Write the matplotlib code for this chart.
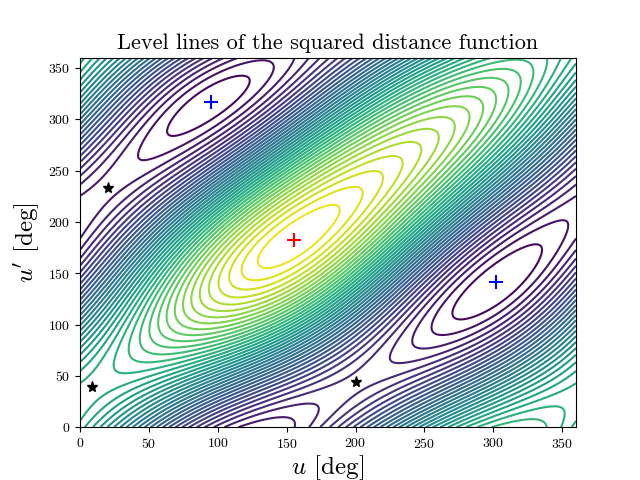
import numpy as np
import matplotlib
matplotlib.use("Agg")
import matplotlib.pyplot as plt

plt.rcParams["font.family"] = "cmr10"
plt.rcParams["mathtext.fontset"] = "cm"
plt.rcParams["axes.formatter.use_mathtext"] = True

# orbital elements: a, e, i [rad], Omega [rad], omega [rad]
orbit1 = [1.0, 0.2007, 0.0, 0.0, 5.6861]
orbit2 = [0.8770, 0.0149, 0.6068, 4.4910, 3.8453]

# critical points [deg]
max_pts_u = [155]
max_pts_v = [182]
min_pts_u = [95, 302]
min_pts_v = [317, 141]
saddle_u = [20, 9, 200]
saddle_v = [233, 39, 44]


def position(el, u):
    a, e, inc, Om, om = el
    x = a * (np.cos(u) - e)
    y = a * np.sqrt(1 - e**2) * np.sin(u)
    x1 = x * np.cos(om) - y * np.sin(om)
    y1 = x * np.sin(om) + y * np.cos(om)
    z1 = y1 * np.sin(inc)
    y1 = y1 * np.cos(inc)
    X = x1 * np.cos(Om) - y1 * np.sin(Om)
    Y = x1 * np.sin(Om) + y1 * np.cos(Om)
    return X, Y, z1


u = np.linspace(0, 360, 361)
U, V = np.meshgrid(u, u)
p1 = position(orbit1, np.radians(U))
p2 = position(orbit2, np.radians(V))
D2 = sum((c1 - c2) ** 2 for c1, c2 in zip(p1, p2))

fig, ax = plt.subplots(figsize=(6.4, 4.8))
ax.contour(U, V, D2, levels=40, cmap="viridis")
ax.plot(max_pts_u, max_pts_v, "r+", ms=10, mew=1.5)
ax.plot(min_pts_u, min_pts_v, "b+", ms=10, mew=1.5)
ax.plot(saddle_u, saddle_v, "k*", ms=8)
ax.set_xlim(0, 360)
ax.set_ylim(0, 360)
ax.set_xlabel(r"$u$ [deg]", fontsize=18, labelpad=2)
ax.set_ylabel(r"$u'$ [deg]", fontsize=18)
ax.set_title("Level lines of the squared distance function", fontsize=16)
fig.subplots_adjust(bottom=0.11)
fig.savefig("out.png", dpi=100)
